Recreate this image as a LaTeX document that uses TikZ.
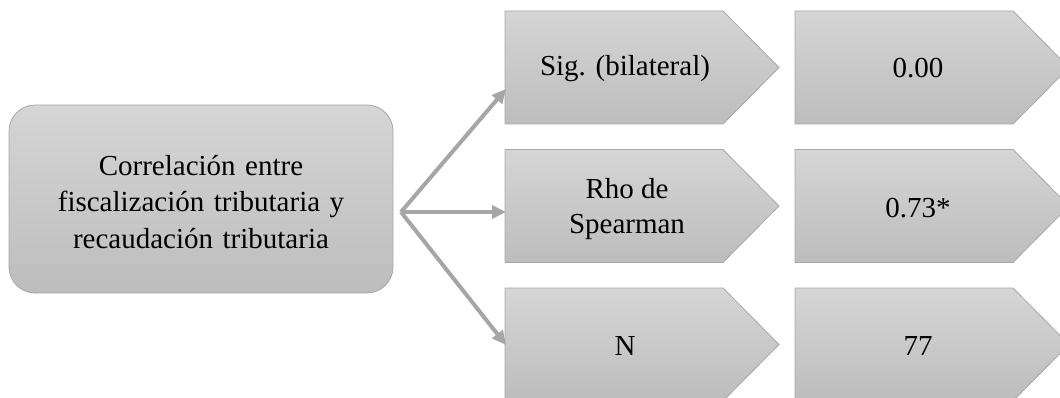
\documentclass[tikz,border=0pt]{standalone}
\usepackage{fontspec}
\setmainfont{Liberation Serif}
\usetikzlibrary{arrows.meta,calc}
\definecolor{boxtop}{HTML}{D5D5D5}
\definecolor{boxbot}{HTML}{BDBDBD}
\definecolor{boxline}{HTML}{A8A8A8}
\definecolor{linkgray}{HTML}{A6A6A6}
\newcommand{\wsp}{\hspace{9.5pt}}
\tikzset{
  x=1pt, y=-1pt,
  boxfill/.style={draw=boxline, line width=0.8pt, top color=boxtop, bottom color=boxbot},
  mainbox/.style={boxfill, rounded corners=26pt, minimum width=384pt, minimum height=188pt,
    inner sep=0pt, align=center, font=\fontsize{29}{36.5}\selectfont},
  label/.style={align=center, inner sep=0pt, font=\fontsize{29}{35}\selectfont},
  link/.style={draw=linkgray, line width=4pt, -{Triangle[length=14pt,width=13pt]}},
}
% chevron-ended panel: #1 left x, #2 top y
\newcommand{\panel}[2]{%
  \path[boxfill] (#1,#2) -- (#1+218,#2) -- (#1+274,#2+56.5) -- (#1+218,#2+113)
    -- (#1,#2+113) -- cycle;}
\begin{document}
\begin{tikzpicture}
\useasboundingbox (0,0) rectangle (1060,398);
\clip (0,0) rectangle (1060,398);

\path[boxfill, rounded corners=26pt] (9,105) rectangle (393,293);
\node[label, font=\fontsize{29}{36.5}\selectfont] (main) at (201,202)
  {Correlación\wsp entre\\fiscalización\wsp tributaria\wsp y\\recaudación\wsp tributaria};

% left column of panels
\panel{505}{11}
\panel{505}{149.5}
\panel{505}{288}
% right column of panels
\panel{795}{11}
\panel{795}{149.5}
\panel{795}{288}

\node[label] (sig) at (625,68.5) {Sig. (bilateral)};
\node[label] (rho) at (627,209) {Rho de\\Spearman};
\node[label] (n) at (625,346) {N};
\node[label] (sigv) at (918,68.5) {0.00};
\node[label] (rhov) at (918,208) {0.73*};
\node[label] (nv) at (918,346) {77};

\coordinate (fork) at (401,212);
\coordinate (sigin) at (506,89);
\coordinate (rhoin) at (506,212);
\coordinate (nin) at (506,345);
\draw[link] (fork) -- (sigin);
\draw[link] (fork) -- (rhoin);
\draw[link] (fork) -- (nin);
\end{tikzpicture}
\end{document}
